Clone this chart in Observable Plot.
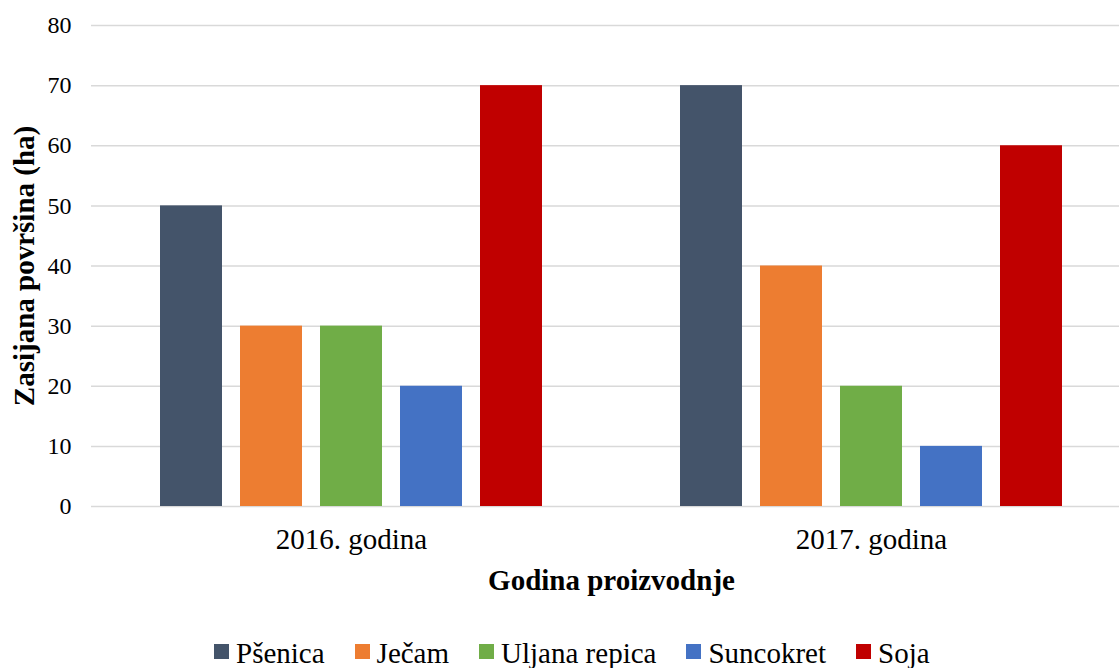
<!DOCTYPE html>
<html>
<head>
<meta charset="utf-8">
<script src="https://cdn.jsdelivr.net/npm/d3@7"></script>
<script src="https://cdn.jsdelivr.net/npm/@observablehq/plot@0.6"></script>
<style>
  html, body { margin: 0; padding: 0; background: #fff; overflow: hidden; }
  #wrap { position: relative; width: 1119px; height: 668px; overflow: hidden; font-family: "Liberation Serif", "Times New Roman", serif; }
  #chart svg { display: block; max-width: none !important; }
  g[aria-label="y-axis label"] text, g[aria-label="fx-axis label"] text { font-weight: bold; font-size: 29px; }
  #legend { position: absolute; left: 214px; top: 639px; display: flex; align-items: center; font-family: "Liberation Serif", "Times New Roman", serif; font-size: 29px; line-height: 29px; color: #000; white-space: nowrap; }
  #legend .item { display: flex; align-items: center; margin-right: 30px; }
  #legend .sw { width: 15px; height: 15px; margin-right: 7px; margin-bottom: 4px; }
</style>
</head>
<body>
<div id="wrap">
  <div id="chart"></div>
  <div id="legend"></div>
</div>
<script>
const years = ["2016. godina", "2017. godina"];
const crops = ["Pšenica", "Ječam", "Uljana repica", "Suncokret", "Soja"];
const values2016 = [50, 30, 30, 20, 70];
const values2017 = [70, 40, 20, 10, 60];
const colors = ["#44546A", "#ED7D31", "#70AD47", "#4472C4", "#C00000"];
const yTicks = [0, 10, 20, 30, 40, 50, 60, 70, 80];

const data = [];
crops.forEach((c, i) => data.push({year: years[0], crop: c, value: values2016[i]}));
crops.forEach((c, i) => data.push({year: years[1], crop: c, value: values2017[i]}));

const chart = Plot.plot({
  width: 1131,
  height: 620,
  marginLeft: 91,
  marginRight: 0,
  marginTop: 25,
  marginBottom: 114,
  style: { fontFamily: "'Liberation Serif', 'Times New Roman', serif", color: "#000", background: "#fff" },
  fx: { domain: years, padding: 0 },
  x: { domain: crops, paddingInner: 0.225, paddingOuter: 0.8625, axis: null, round: false },
  y: { domain: [0, 80] },
  color: { domain: crops, range: colors },
  marks: [
    Plot.gridY(yTicks, { stroke: "#d9d9d9", strokeOpacity: 1, strokeWidth: 1.5 }),
    Plot.barY(data, { fx: "year", x: "crop", y: "value", fill: "crop" }),
    Plot.axisY(yTicks, {
      tickSize: 0, tickPadding: 20, fontSize: 24, tickFormat: d => String(d),
      label: "Zasijana površina (ha)", labelAnchor: "center", labelArrow: "none", labelOffset: 78
    }),
    Plot.axisFx({
      anchor: "bottom", tickSize: 0, tickPadding: 22, fontSize: 29,
      label: "Godina proizvodnje", labelAnchor: "center", labelArrow: "none", labelOffset: 83
    })
  ]
});
document.getElementById("chart").appendChild(chart);

const legend = document.getElementById("legend");
crops.forEach((c, i) => {
  const item = document.createElement("div");
  item.className = "item";
  const sw = document.createElement("span");
  sw.className = "sw";
  sw.style.background = colors[i];
  const t = document.createElement("span");
  t.textContent = c;
  item.appendChild(sw);
  item.appendChild(t);
  legend.appendChild(item);
});
</script>
</body>
</html>
